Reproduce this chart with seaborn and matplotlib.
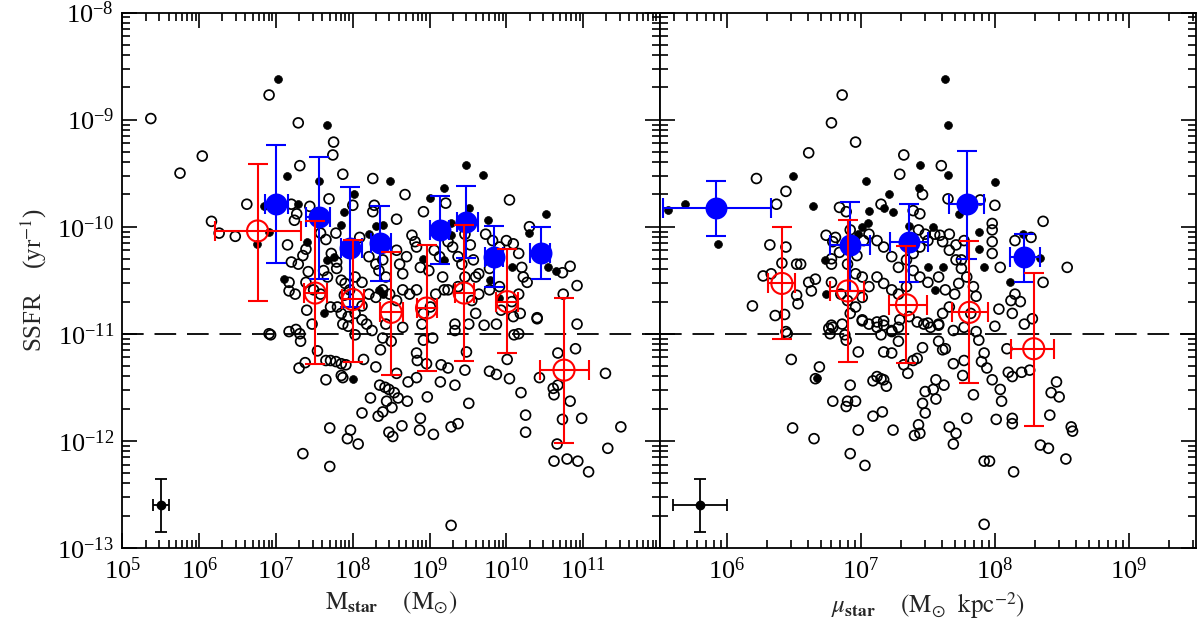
import numpy as np
import pandas as pd
import matplotlib
matplotlib.use("Agg")
import matplotlib.pyplot as plt
from matplotlib.ticker import LogLocator, NullFormatter, LogFormatterMathtext, FixedLocator
import seaborn as sns

# all values as log10
# --- left panel: stellar mass vs SSFR ---
mass_open = [5.37, 6.91, 7.29, 6.04, 5.75, 7.75, 7.74, 7.31, 7.87, 8.26, 6.62, 6.16, 6.26, 6.47, 7.20, 7.27,
             7.44, 7.24, 7.39, 7.35, 7.15, 7.20, 7.29, 7.69, 8.00, 7.78, 7.65, 7.62, 7.58, 8.26, 8.28, 8.09,
             8.57, 8.68, 8.92, 9.21, 10.04, 10.30, 10.83, 10.73, 10.92, 10.74, 10.40, 10.92, 7.17, 7.17, 7.25,
             7.39, 7.42, 7.67, 7.72, 7.79, 7.79, 7.85, 7.90, 7.89, 7.96, 8.03, 8.12, 8.21, 8.30, 8.34, 8.39,
             8.43, 8.57, 8.61, 8.65, 8.70, 8.77, 8.81, 8.83, 8.88, 8.99, 9.06, 9.13, 9.24, 9.30, 9.37, 9.42,
             9.46, 9.53, 9.57, 9.64, 9.73, 9.82, 9.91, 10.00, 10.09, 10.16, 10.20, 10.22, 10.27, 10.16, 10.07,
             9.91, 9.78, 9.64, 9.55, 9.46, 9.37, 9.19, 9.08, 9.01, 8.92, 8.83, 8.74, 8.65, 8.57, 8.48, 8.39,
             8.30, 8.21, 8.12, 8.03, 7.94, 7.85, 7.80, 7.71, 7.58, 7.49, 7.40, 7.47, 7.87, 8.18, 8.43, 8.65,
             8.90, 9.33, 9.51, 9.60, 9.71, 9.87, 9.93, 10.09, 10.18, 9.78, 9.60, 9.24, 9.17,
             6.91, 6.93, 7.17, 7.26, 7.31, 7.32, 7.54, 7.65, 7.71, 7.78, 7.85, 7.91, 7.30, 7.38, 7.65, 7.85,
             7.87, 7.94, 8.03, 8.12, 8.25, 8.39, 8.36, 8.50, 8.30, 8.14, 8.23, 8.12, 8.33, 8.39, 8.35, 8.42,
             8.47, 8.54, 8.59, 8.44, 8.51, 8.71, 8.57, 8.72, 8.83, 8.84, 8.92, 8.96, 9.04, 8.83, 8.88, 8.87,
             8.97, 9.05, 9.15, 9.24, 9.14, 9.33, 9.28, 9.37, 9.51, 9.46, 9.48, 9.33, 9.78, 9.87, 10.01, 10.04,
             10.19, 10.25, 10.25, 10.10, 10.16, 10.40, 10.90, 10.67, 10.43, 10.61, 10.62, 10.67, 10.83, 10.73,
             10.98, 11.29, 11.49, 11.32, 10.66, 10.62, 10.79, 10.93, 11.07, 9.28, 7.35, 7.70, 7.93, 7.97, 8.07,
             7.70, 8.64, 8.52, 8.47]
ssfr_open_m = [-8.99, -8.77, -9.03, -9.34, -9.50, -9.21, -9.33, -9.43, -9.51, -9.55, -9.79, -9.95, -10.06,
               -10.09, -9.79, -9.88, -9.81, -9.94, -10.21, -10.27, -10.17, -10.33, -10.35, -9.74, -9.80,
               -10.06, -10.12, -10.41, -10.06, -9.86, -9.80, -10.10, -9.93, -9.70, -9.86, -9.78, -9.75,
               -10.00, -10.37, -10.43, -10.55, -10.63, -10.85, -10.91, -10.52, -10.60, -10.63, -10.52,
               -10.42, -10.47, -10.25, -10.33, -10.39, -10.50, -10.53, -10.64, -10.59, -10.47, -10.52,
               -10.28, -10.35, -10.41, -10.31, -10.47, -10.22, -10.35, -10.44, -10.28, -10.08, -10.14,
               -10.19, -10.38, -10.41, -10.22, -10.28, -10.14, -10.19, -10.28, -10.35, -10.07, -10.17,
               -10.31, -10.44, -10.07, -10.13, -10.19, -10.13, -10.16, -10.25, -10.38, -10.47, -10.52,
               -10.63, -10.70, -10.56, -10.59, -10.63, -10.69, -10.47, -10.56, -10.59, -10.63, -10.75,
               -10.81, -10.59, -10.63, -10.59, -10.69, -10.63, -10.59, -10.66, -10.63, -10.74, -10.81,
               -10.84, -10.81, -10.75, -10.75, -10.63, -10.59, -10.78, -10.91, -10.91, -10.91, -10.91,
               -10.94, -10.91, -10.91, -10.91, -10.81, -10.92, -10.91, -10.78, -10.84, -10.81, -10.39,
               -10.47, -10.59, -10.47,
               -11.00, -11.01, -10.98, -10.96, -11.00, -11.07, -11.16, -11.25, -11.25, -11.26, -11.28,
               -11.29, -11.32, -11.27, -11.43, -11.39, -11.41, -10.93, -11.01, -10.87, -10.97, -11.04,
               -11.15, -11.07, -11.31, -11.24, -11.60, -11.74, -11.77, -11.73, -11.48, -11.50, -11.52,
               -11.55, -11.60, -11.63, -11.69, -11.63, -11.37, -11.45, -11.18, -11.25, -11.06, -11.28,
               -11.04, -11.41, -11.79, -11.90, -11.59, -11.94, -11.29, -11.32, -11.45, -11.48, -11.87,
               -11.84, -11.65, -11.34, -11.17, -10.97, -11.35, -11.38, -11.24, -11.42, -11.55, -11.76,
               -11.92, -11.01, -11.00, -10.86, -11.14, -11.18, -11.41, -11.51, -11.57, -11.48, -11.63,
               -11.80, -11.79, -11.37, -11.87, -12.07, -12.03, -12.19, -12.17, -12.19, -12.29, -12.79,
               -12.12, -12.24, -11.98, -11.90, -12.03, -11.88, -11.86, -11.96, -11.92]
mass_filled = [7.02, 7.66, 7.14, 8.49, 7.56, 6.75, 6.91, 6.85, 7.28, 7.41, 8.01, 7.89, 7.85, 8.39, 8.30, 8.21,
               9.00, 9.19, 9.48, 9.69, 9.76, 10.52, 10.29, 9.51, 9.28, 10.65, 10.54, 7.11, 8.34, 8.39, 8.92,
               9.19, 9.28, 9.78, 9.91, 10.07, 7.76, 7.67, 7.62, 8.00]
ssfr_filled_m = [-8.62, -9.05, -9.53, -9.57, -9.57, -10.16, -10.05, -9.81, -9.79, -10.14, -9.69, -9.86,
                 -9.98, -9.98, -9.99, -10.07, -9.73, -9.64, -9.42, -9.52, -9.94, -9.88, -10.06, -9.83,
                 -9.97, -10.41, -10.38, -10.49, -10.59, -10.63, -10.30, -10.31, -10.08, -10.50, -10.67,
                 -10.38, -10.28, -10.31, -10.81, -11.42]

mass_blue = [7.00, 7.56, 7.97, 8.36, 9.13, 9.48, 9.84, 10.45]
mass_blue_lo = [6.86, 7.39, 7.84, 8.24, 9.00, 9.36, 9.72, 10.31]
mass_blue_hi = [7.15, 7.70, 8.12, 8.50, 9.25, 9.63, 9.96, 10.57]
ssfr_blue_m = [-9.79, -9.91, -10.20, -10.15, -10.03, -9.96, -10.28, -10.25]
ssfr_blue_m_hi = [-9.24, -9.35, -9.63, -9.81, -9.71, -9.62, -9.99, -10.00]
ssfr_blue_m_lo = [-10.34, -10.49, -10.75, -10.51, -10.35, -10.29, -10.56, -10.49]

mass_red = [6.76, 7.51, 8.00, 8.50, 8.96, 9.45, 10.01, 10.75]
mass_red_lo = [6.20, 7.36, 7.86, 8.36, 8.83, 9.33, 9.87, 10.44]
mass_red_hi = [7.33, 7.67, 8.15, 8.65, 9.09, 9.58, 10.15, 11.08]
ssfr_red_m = [-10.04, -10.62, -10.68, -10.80, -10.76, -10.62, -10.70, -11.34]
ssfr_red_m_hi = [-9.41, -9.95, -10.12, -10.24, -10.17, -9.98, -10.21, -10.67]
ssfr_red_m_lo = [-10.69, -11.28, -11.26, -11.39, -11.35, -11.25, -11.18, -12.02]

# --- right panel: surface density vs SSFR ---
mu_open = [6.86, 6.78, 6.96, 6.61, 6.22, 6.44, 7.32, 7.29, 7.60, 7.46, 6.37, 6.84, 6.89, 7.15, 7.39, 7.44,
           7.65, 7.89, 8.00, 8.36, 8.54, 7.98, 7.98, 8.15, 8.27, 8.36, 8.15, 8.12, 8.19, 8.04, 7.98, 7.98,
           8.03, 8.00, 8.22, 8.28, 7.86, 7.82, 7.77, 7.69, 6.32, 6.44, 6.41, 6.52, 6.55, 6.27, 6.33, 6.19,
           6.36, 6.43, 6.52, 6.53, 6.61, 6.66, 6.63, 6.78, 6.74, 6.81, 6.78, 6.84, 6.90, 6.96, 7.01, 6.97,
           7.02, 7.06, 7.12, 7.17, 7.23, 7.28, 7.34, 7.39, 7.44, 7.50, 7.55, 7.61, 7.66, 7.71, 7.75, 7.79,
           7.84, 7.39, 7.44, 7.50, 7.34, 7.28, 7.23, 7.17, 7.12, 7.06, 7.01, 6.96, 6.92, 6.86, 6.79, 6.77,
           6.78, 6.85, 6.90, 7.01, 7.06, 7.12, 7.17, 7.23, 7.28, 7.36, 7.42, 7.47, 7.52, 7.58, 7.61, 7.66,
           7.70, 7.63, 7.58, 7.73, 7.75, 7.71, 7.77, 7.66, 7.59, 6.92, 6.79, 7.48, 7.43,
           6.44, 6.45, 6.48, 6.69, 6.66, 6.76, 6.78, 6.88, 6.89, 6.98, 7.01, 7.12, 7.17, 7.15, 7.23, 7.28,
           7.17, 7.23, 7.29, 7.32, 7.35, 7.39, 7.42, 7.46, 7.50, 7.58, 7.58, 7.61, 7.63, 7.69, 7.77, 7.76,
           7.84, 7.79, 7.66, 7.71, 7.69, 7.92, 7.96, 7.92, 8.14, 8.01, 8.13, 8.13, 8.41, 8.34, 8.40, 8.53,
           8.57, 8.58, 8.48, 8.42, 8.46, 8.26, 8.20, 8.13, 8.10, 8.04, 8.05, 7.98, 7.94, 7.90, 7.92, 7.88,
           7.86, 8.09, 8.13, 7.09, 7.12, 7.15, 7.17, 7.19, 6.92, 6.90, 6.96, 6.89, 6.79, 7.09, 7.16, 6.98,
           6.92, 7.03, 6.49, 6.65, 7.24, 7.43, 7.40, 7.44, 7.48, 7.54, 7.56, 7.62, 7.56, 7.46, 7.48]
ssfr_open_s = [-8.77, -9.03, -9.21, -9.31, -9.55, -9.67, -9.33, -9.51, -9.43, -9.70, -9.79, -9.82, -9.86,
               -9.79, -9.85, -9.88, -9.74, -9.75, -9.80, -9.95, -10.38, -9.97, -10.03, -10.13, -10.10,
               -10.52, -10.63, -10.69, -10.70, -10.38, -10.14, -10.25, -10.77, -10.93, -10.91, -10.86,
               -10.65, -10.81, -10.94, -10.97, -10.17, -10.19, -10.34, -10.35, -10.35, -10.46, -10.44,
               -10.74, -10.83, -10.82, -10.64, -10.72, -10.52, -10.49, -10.60, -10.35, -10.08, -10.10,
               -10.30, -10.24, -10.35, -10.44, -10.47, -10.27, -10.13, -10.07, -10.13, -10.19, -10.28,
               -10.38, -10.31, -10.25, -10.19, -10.13, -10.07, -10.14, -10.22, -10.31, -10.39, -10.47,
               -10.56, -10.41, -10.47, -10.52, -10.56, -10.63, -10.59, -10.53, -10.47, -10.56, -10.66,
               -10.75, -10.81, -10.91, -10.94, -11.00, -10.52, -10.63, -10.69, -10.88, -10.91, -10.94,
               -10.88, -10.97, -10.94, -10.84, -10.89, -10.91, -10.94, -10.91, -10.81, -10.75, -10.63,
               -10.59, -10.47, -10.53, -10.31, -10.17, -10.13, -10.07, -10.08, -10.03, -10.14, -10.07,
               -10.03,
               -10.98, -11.00, -11.24, -11.31, -11.42, -10.95, -10.92, -11.01, -11.06, -11.17, -10.87,
               -10.89, -10.92, -11.01, -10.98, -11.07, -11.17, -11.18, -10.87, -11.29, -11.37, -11.25,
               -11.23, -11.13, -10.90, -10.92, -11.07, -11.15, -11.14, -11.28, -11.25, -11.39, -11.57,
               -11.79, -11.87, -11.93, -12.03, -12.19, -12.19, -12.78, -12.29, -11.80, -11.79, -11.84,
               -11.76, -12.04, -12.07, -12.17, -11.87, -11.91, -11.59, -11.55, -11.45, -11.34, -11.36,
               -11.40, -11.36, -11.52, -11.63, -11.43, -11.32, -11.26, -11.18, -11.06, -10.98, -11.14,
               -10.81, -11.44, -11.40, -11.42, -11.43, -11.49, -11.48, -11.63, -11.63, -11.68, -11.63,
               -11.77, -11.73, -11.90, -12.12, -12.23, -11.88, -11.98, -11.90, -11.85, -11.95, -11.93,
               -11.54, -11.52, -11.61, -11.48, -11.43, -11.65, -11.74]
mu_filled = [6.49, 7.63, 7.65, 7.44, 7.04, 7.65, 8.00, 7.43, 7.21, 6.64, 5.69, 5.56, 5.93, 7.06, 7.17, 7.24,
             8.21, 8.34, 8.11, 7.92, 7.88, 7.88, 6.73, 7.50, 7.61, 7.55, 7.54, 7.36, 6.74, 7.01, 7.05, 6.98,
             7.73, 6.67]
ssfr_filled_s = [-9.53, -8.62, -9.05, -9.42, -9.57, -9.52, -9.58, -9.64, -9.69, -9.81, -9.79, -9.84, -10.16,
                 -9.85, -9.83, -9.86, -10.07, -10.29, -10.52, -10.38, -10.21, -10.05, -10.31, -10.38,
                 -10.38, -10.59, -10.00, -9.99, -10.63, -10.00, -9.97, -10.07, -9.88, -11.41]

mu_blue = [5.92, 6.92, 7.36, 7.79, 8.22]
mu_blue_lo = [5.52, 6.77, 7.22, 7.66, 8.11]
mu_blue_hi = [6.33, 7.07, 7.50, 7.92, 8.34]
ssfr_blue_s = [-9.83, -10.17, -10.14, -9.79, -10.28]
ssfr_blue_s_hi = [-9.57, -9.77, -9.79, -9.29, -10.07]
ssfr_blue_s_lo = [-10.09, -10.60, -10.52, -10.30, -10.52]

mu_red = [6.41, 6.90, 7.34, 7.81, 8.29]
mu_red_lo = [6.31, 6.77, 7.21, 7.68, 8.12]
mu_red_hi = [6.51, 7.02, 7.49, 7.95, 8.44]
ssfr_red_s = [-10.53, -10.60, -10.73, -10.80, -11.14]
ssfr_red_s_hi = [-10.00, -9.94, -10.18, -10.13, -10.43]
ssfr_red_s_lo = [-11.05, -11.26, -11.27, -11.46, -11.86]

# typical error key (bottom left)
key_ssfr, key_ssfr_hi, key_ssfr_lo = -12.60, -12.36, -12.85
key_mass, key_mass_lo, key_mass_hi = 5.50, 5.40, 5.61
key_mu, key_mu_lo, key_mu_hi = 5.80, 5.60, 6.00

ssfr_cut = -11.0

sns.set_theme(style="ticks")
plt.rcParams["font.family"] = ["Liberation Serif", "DejaVu Serif"]
plt.rcParams["mathtext.fontset"] = "stix"

fig = plt.figure(figsize=(12, 6.29), dpi=100)
ax1 = fig.add_axes([0.102, 0.129, 0.448, 0.851])
ax2 = fig.add_axes([0.550, 0.129, 0.4465, 0.851])

BLUE = (0, 0, 1)
RED = (1, 0, 0)


def p(v):
    return 10 ** np.asarray(v, dtype=float)


def draw_panel(ax, xo, yo, xf, yf, xb, xb_lo, xb_hi, yb, yb_hi, yb_lo,
               xr, xr_lo, xr_hi, yr, yr_hi, yr_lo, kx, kx_lo, kx_hi):
    ax.axhline(p(ssfr_cut), color="black", lw=1.3, ls=(0, (12, 6)), zorder=1)
    d_open = pd.DataFrame({"x": p(xo), "y": p(yo)})
    d_fill = pd.DataFrame({"x": p(xf), "y": p(yf)})
    sns.scatterplot(data=d_open, x="x", y="y", ax=ax, marker="o", s=50,
                    facecolor="none", edgecolor="black", linewidth=1.25, zorder=2)
    sns.scatterplot(data=d_fill, x="x", y="y", ax=ax, marker="o", s=32,
                    color="black", edgecolor="black", linewidth=0.5, zorder=3)

    # blue: filled with error bars
    X, Y = p(xb), p(yb)
    ax.errorbar(X, Y, xerr=[X - p(xb_lo), p(xb_hi) - X], yerr=[Y - p(yb_lo), p(yb_hi) - Y],
                fmt="none", ecolor=BLUE, elinewidth=1.5, capsize=7, capthick=1.5, zorder=4)
    sns.scatterplot(x=X, y=Y, ax=ax, marker="o", s=250, color=BLUE, edgecolor=BLUE,
                    linewidth=0, zorder=5)

    # red: open circles with error bars through them
    X, Y = p(xr), p(yr)
    ax.errorbar(X, Y, xerr=[X - p(xr_lo), p(xr_hi) - X], yerr=[Y - p(yr_lo), p(yr_hi) - Y],
                fmt="none", ecolor=RED, elinewidth=1.5, capsize=7, capthick=1.5, zorder=6)
    sns.scatterplot(x=X, y=Y, ax=ax, marker="o", s=230, facecolor="none", edgecolor=RED,
                    linewidth=1.5, zorder=6)

    # error key
    kx0, ky0 = p(kx), p(key_ssfr)
    ax.errorbar([kx0], [ky0], xerr=[[kx0 - p(kx_lo)], [p(kx_hi) - kx0]],
                yerr=[[ky0 - p(key_ssfr_lo)], [p(key_ssfr_hi) - ky0]],
                fmt="o", color="black", ms=6, elinewidth=1.3, capsize=4, capthick=1.3, zorder=7)

    ax.set_xscale("log")
    ax.set_yscale("log")
    ax.set_ylim(1e-13, 1e-8)
    ax.yaxis.set_major_locator(FixedLocator(p(np.arange(-13, -7))))
    ax.yaxis.set_minor_locator(LogLocator(base=10, subs=np.arange(2, 10), numticks=20))
    ax.xaxis.set_minor_locator(LogLocator(base=10, subs=np.arange(2, 10), numticks=30))
    ax.xaxis.set_minor_formatter(NullFormatter())
    ax.yaxis.set_minor_formatter(NullFormatter())
    ax.tick_params(which="both", direction="in", top=True, right=True, width=1.2, colors="black",
                   labelsize=19)
    ax.tick_params(which="major", length=11)
    ax.tick_params(which="minor", length=5.5)
    ax.tick_params(axis="x", which="major", pad=7)
    ax.tick_params(axis="y", which="major", pad=6)
    for s in ax.spines.values():
        s.set_linewidth(1.3)
        s.set_color("black")
    ax.set_xlabel("")
    ax.set_ylabel("")


draw_panel(ax1, mass_open, ssfr_open_m, mass_filled, ssfr_filled_m,
           mass_blue, mass_blue_lo, mass_blue_hi, ssfr_blue_m, ssfr_blue_m_hi, ssfr_blue_m_lo,
           mass_red, mass_red_lo, mass_red_hi, ssfr_red_m, ssfr_red_m_hi, ssfr_red_m_lo,
           key_mass, key_mass_lo, key_mass_hi)
draw_panel(ax2, mu_open, ssfr_open_s, mu_filled, ssfr_filled_s,
           mu_blue, mu_blue_lo, mu_blue_hi, ssfr_blue_s, ssfr_blue_s_hi, ssfr_blue_s_lo,
           mu_red, mu_red_lo, mu_red_hi, ssfr_red_s, ssfr_red_s_hi, ssfr_red_s_lo,
           key_mu, key_mu_lo, key_mu_hi)

ax1.set_xlim(1e5, 1e12)
ax1.set_xticks(p(np.arange(5, 12)))
ax1.xaxis.set_major_formatter(LogFormatterMathtext())
ax1.yaxis.set_major_formatter(LogFormatterMathtext())
ax2.set_xlim(p(5.5), p(9.5))
ax2.set_xticks(p(np.arange(6, 10)))
ax2.xaxis.set_major_formatter(LogFormatterMathtext())
ax2.tick_params(axis="y", which="both", labelleft=False)

ax1.set_xlabel(r"$\mathrm{M}_{\mathbf{star}}$    $(\mathrm{M}_{\odot})$", fontsize=18, labelpad=4)
ax2.set_xlabel(r"$\mu_{\mathbf{star}}$    $(\mathrm{M}_{\odot}\ \ \mathrm{kpc}^{-2})$", fontsize=18, labelpad=4)
ax1.set_ylabel(r"SSFR    (yr$^{-1}$)", fontsize=18, labelpad=6)

fig.savefig("out.png", dpi=100)
